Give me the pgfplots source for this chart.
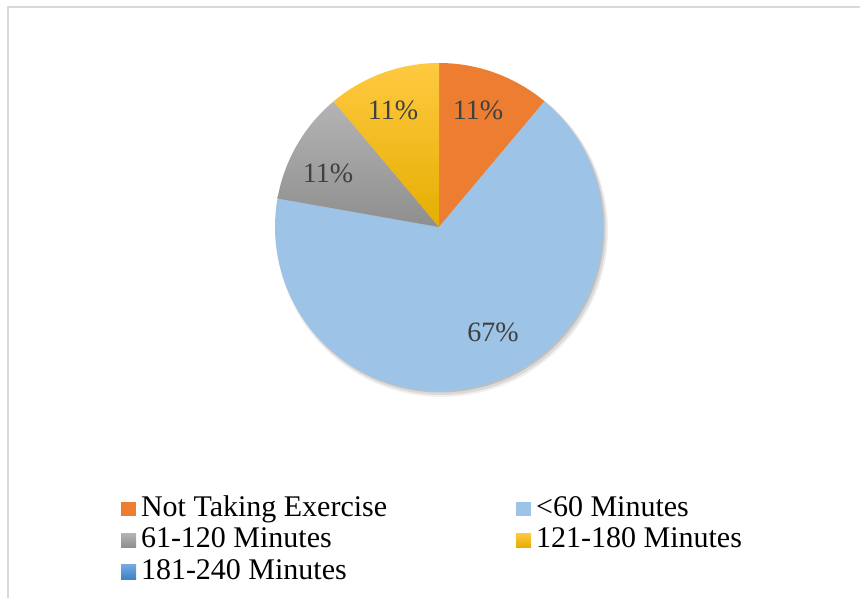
\documentclass[border=0pt]{standalone}
\usepackage{pgfplots}
\pgfplotsset{compat=1.18}
\usepackage{fontspec}
\setmainfont{Liberation Serif}

\definecolor{cOrange}{HTML}{ED7D31}
\definecolor{cLight}{HTML}{9DC3E6}
\definecolor{cGrayTop}{HTML}{B4B4B4}
\definecolor{cGrayBot}{HTML}{8E8E8E}
\definecolor{cGoldTop}{HTML}{FFC941}
\definecolor{cGoldBot}{HTML}{E5AE00}
\definecolor{cBlueTop}{HTML}{74AAE0}
\definecolor{cBlueBot}{HTML}{3F82C6}
\definecolor{labelgray}{HTML}{404040}
\definecolor{framegray}{HTML}{D9D9D9}

% One wedge of the pie: style, respondents counted before it, respondents in it.
% 9 respondents in total; the first wedge starts at 12 o'clock, going clockwise.
\newcommand{\pieslice}[3]{%
  \path[#1] (axis cs:439,371) -- ++({90-360*(#2)/9}:164pt)
    arc[start angle={90-360*(#2)/9}, end angle={90-360*((#2)+(#3))/9}, radius=164pt]
    -- cycle;%
}

\begin{document}
\begin{tikzpicture}
\begin{axis}[
  x=1pt, y=1pt,
  xmin=0, xmax=860, ymin=0, ymax=598,
  hide axis, clip=true,
  legend columns=2,
  legend cell align=left,
  legend image code/.code={\path[#1, draw=none] (0pt,0pt) rectangle (15pt,14.5pt);},
  legend style={
    at={(axis cs:121,104)}, anchor=north west,
    draw=none, fill=none, inner sep=0pt, outer sep=0pt,
    font=\fontsize{30}{34}\selectfont,
    nodes={inner sep=0pt, text height=22pt, text depth=9.5pt, anchor=base west},
    row sep=0pt,
    /tikz/every odd column/.style={column sep=5pt},
    /tikz/every even column/.style={column sep=129pt},
  },
]
% chart area frame (top and left edges)
\draw[framegray, line width=1.5pt] (axis cs:8,0) -- (axis cs:8,591) -- (axis cs:860,591);

% soft shadow under the pie
\fill[black, opacity=0.06] (axis cs:442,367) circle[radius=166pt];
\fill[black, opacity=0.09] (axis cs:441.5,368) circle[radius=165pt];
\fill[black, opacity=0.12] (axis cs:440.5,369.5) circle[radius=164pt];

% wedges
\pieslice{fill=cOrange}{0}{1}
\pieslice{fill=cLight}{1}{6}
\pieslice{top color=cGrayTop, bottom color=cGrayBot}{7}{1}
\pieslice{top color=cGoldTop, bottom color=cGoldBot}{8}{1}
\pieslice{top color=cBlueTop, bottom color=cBlueBot}{9}{0}

% data labels
\node[font=\fontsize{28}{30}\selectfont, text=labelgray] at (axis cs:478,488) {11\%};
\node[font=\fontsize{28}{30}\selectfont, text=labelgray] at (axis cs:393,488) {11\%};
\node[font=\fontsize{28}{30}\selectfont, text=labelgray] at (axis cs:328,425) {11\%};
\node[font=\fontsize{28}{30}\selectfont, text=labelgray] at (axis cs:493,266) {67\%};

\addlegendimage{fill=cOrange}
\addlegendentry{Not Taking Exercise}
\addlegendimage{fill=cLight}
\addlegendentry{<60 Minutes}
\addlegendimage{top color=cGrayTop, bottom color=cGrayBot}
\addlegendentry{61-120 Minutes}
\addlegendimage{top color=cGoldTop, bottom color=cGoldBot}
\addlegendentry{121-180 Minutes}
\addlegendimage{top color=cBlueTop, bottom color=cBlueBot}
\addlegendentry{181-240 Minutes}
\end{axis}
\pgfresetboundingbox
\useasboundingbox (current axis.south west) rectangle (current axis.north east);
\end{tikzpicture}
\end{document}
